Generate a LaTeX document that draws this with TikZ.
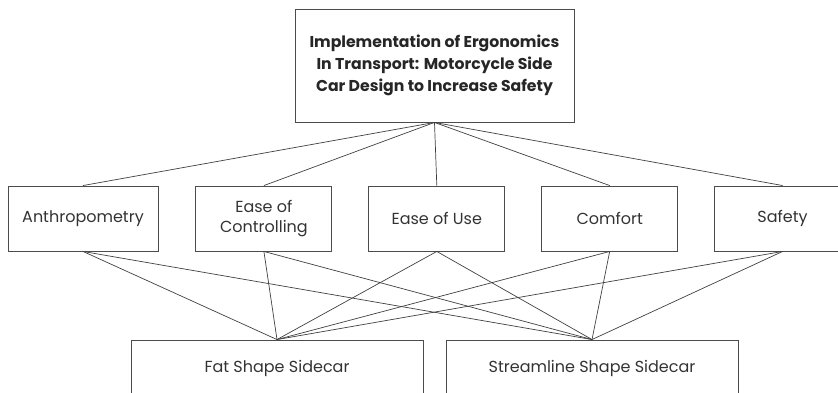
\documentclass[tikz,border=0pt]{standalone}
\usepackage{fontspec}
\setmainfont{Poppins}
\usetikzlibrary{positioning}
\begin{document}
\begin{tikzpicture}[x=1pt,y=-1pt]
\tikzset{title/.style={rectangle, align=center, draw=black!70, line width=0.9pt, minimum width=279pt, minimum height=113pt, text=black!85, font=\fontsize{15.7}{21.7}\selectfont\bfseries},
		factor/.style={rectangle, align=center, draw=black!70, line width=0.9pt, minimum width=136pt, minimum height=65pt, text=black!80, font=\fontsize{16}{20}\selectfont},
		design/.style={rectangle, align=center, draw=black!70, line width=0.9pt, minimum width=292pt, minimum height=56pt, text=black!80, font=\fontsize{16}{20}\selectfont},
		link/.style={draw=black!75, line width=0.7pt}}
\useasboundingbox (0,0) rectangle (838,393);
\clip (0,0) rectangle (838,393);
\node[title] (Goal) at (434.5,65.5) {Implementation of Ergonomics\\In Transport: Motorcycle Side\\Car Design to Increase Safety};
\node[factor, minimum width=150pt] (Anth) at (83,218.5) {Anthropometry};
\node[factor, right=37pt of Anth] (Ctrl) {Ease of\\Controlling};
\node[factor, right=36pt of Ctrl] (Use) {Ease of Use};
\node[factor, right=36pt of Use] (Comf) {Comfort};
\node[factor, right=36pt of Comf] (Safe) {Safety};
\node[design] (Fat) at (277,368) {Fat Shape Sidecar};
\node[design] (Stream) at (592,368) {Streamline Shape Sidecar};
\draw[link] (Goal.south) -- (Anth.north);
\draw[link] (Goal.south) -- (Ctrl.north);
\draw[link] (Goal.south) -- (Use.north);
\draw[link] (Goal.south) -- (Comf.north);
\draw[link] (Goal.south) -- (Safe.north);
\draw[link] (Anth.south) -- (Fat.north);
\draw[link] (Ctrl.south) -- (Fat.north);
\draw[link] (Use.south) -- (Fat.north);
\draw[link] (Comf.south) -- (Fat.north);
\draw[link] (Safe.south) -- (Fat.north);
\draw[link] (Anth.south) -- (Stream.north);
\draw[link] (Ctrl.south) -- (Stream.north);
\draw[link] (Use.south) -- (Stream.north);
\draw[link] (Comf.south) -- (Stream.north);
\draw[link] (Safe.south) -- (Stream.north);
\end{tikzpicture}
\end{document}
